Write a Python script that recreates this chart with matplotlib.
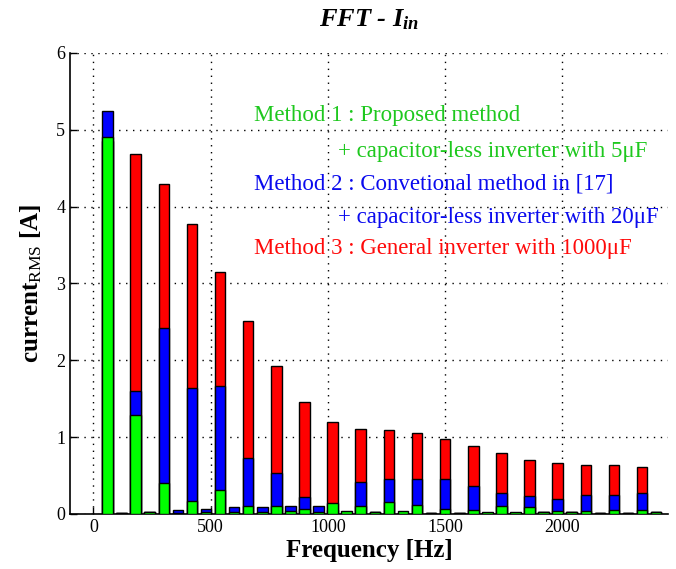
import matplotlib
matplotlib.use('Agg')
from matplotlib import pyplot as plt

plt.rcParams['font.family'] = ['Liberation Serif', 'DejaVu Serif']
plt.rcParams['mathtext.fontset'] = 'custom'
plt.rcParams['mathtext.rm'] = 'Liberation Serif'
plt.rcParams['mathtext.it'] = 'Liberation Serif:italic:bold'
plt.rcParams['mathtext.bf'] = 'Liberation Serif:bold'

freq = [60, 120, 180, 240, 300, 360, 420, 480, 540, 600,
        660, 720, 780, 840, 900, 960, 1020, 1080, 1140, 1200,
        1260, 1320, 1380, 1440, 1500, 1560, 1620, 1680, 1740, 1800,
        1860, 1920, 1980, 2040, 2100, 2160, 2220, 2280, 2340, 2400]

# Method 3 : general inverter with 1000uF
method3 = [4.85, 0.01, 4.68, 0.02, 4.30, 0.01, 3.78, 0.01, 3.15, 0.01,
           2.51, 0.01, 1.92, 0.01, 1.46, 0.01, 1.20, 0.01, 1.10, 0.02,
           1.09, 0.01, 1.05, 0.01, 0.98, 0.01, 0.89, 0.01, 0.79, 0.01,
           0.70, 0.03, 0.66, 0.03, 0.64, 0.01, 0.64, 0.01, 0.61, 0.03]
# Method 2 : conventional method + capacitor-less inverter 20uF
method2 = [5.25, 0.015, 1.60, 0.025, 2.42, 0.05, 1.64, 0.07, 1.67, 0.09,
           0.73, 0.09, 0.53, 0.11, 0.22, 0.10, 0.05, 0.01, 0.41, 0.02,
           0.45, 0.01, 0.46, 0.01, 0.45, 0.01, 0.36, 0.01, 0.27, 0.01,
           0.23, 0.03, 0.19, 0.03, 0.25, 0.01, 0.25, 0.01, 0.27, 0.03]
# Method 1 : proposed method + capacitor-less inverter 5uF
method1 = [4.91, 0.01, 1.29, 0.02, 0.40, 0.01, 0.17, 0.02, 0.31, 0.03,
           0.11, 0.02, 0.10, 0.04, 0.07, 0.02, 0.14, 0.035, 0.10, 0.02,
           0.15, 0.035, 0.12, 0.01, 0.07, 0.01, 0.05, 0.03, 0.11, 0.03,
           0.09, 0.02, 0.035, 0.02, 0.035, 0.01, 0.05, 0.01, 0.05, 0.02]

fig = plt.figure(figsize=(6.76, 5.69), dpi=100)
ax = fig.add_axes([0.1036, 0.0967, 0.8844, 0.8103])

w = 45
ax.bar(freq, method3, width=w, color='#ff0000', edgecolor='black', linewidth=1.0, zorder=2)
ax.bar(freq, method2, width=w, color='#0000ff', edgecolor='black', linewidth=1.0, zorder=3)
ax.bar(freq, method1, width=w, color='#00ff00', edgecolor='black', linewidth=1.0, zorder=4)

ax.set_xlim(-100, 2450)
ax.set_ylim(0, 6)
ax.set_xticks([0, 500, 1000, 1500, 2000])
ax.set_yticks([0, 1, 2, 3, 4, 5, 6])
ax.tick_params(direction='in', labelsize=13, length=5, width=1)
ax.grid(True, linestyle=(0, (1, 4)), color='black', linewidth=1.0)
ax.set_axisbelow(True)
ax.spines['top'].set_visible(False)
ax.spines['right'].set_visible(False)
ax.spines['left'].set_linewidth(1.2)
ax.spines['bottom'].set_linewidth(1.2)

ax.set_xlabel('Frequency [Hz]', fontsize=18, fontweight='bold', labelpad=2)
ax.set_ylabel(r'current$_{\rm RMS}$ [A]', fontsize=18, fontweight='bold', labelpad=9)
ax.set_title(r'FFT - $I_{in}$', fontsize=19, fontweight='bold', fontstyle='italic', pad=19)

tkw = dict(fontsize=16.5, va='center', ha='left', zorder=5)
ax.text(684, 5.19, 'Method 1 : Proposed method', color='#1ec81e', **tkw)
ax.text(1043, 4.72, '+ capacitor-less inverter with 5μF', color='#1ec81e', **tkw)
ax.text(684, 4.29, 'Method 2 : Convetional method in [17]', color='#0a0aee', **tkw)
ax.text(1043, 3.86, '+ capacitor-less inverter with 20μF', color='#0a0aee', **tkw)
ax.text(684, 3.46, 'Method 3 : General inverter with 1000μF', color='#ff0a0a', **tkw)

fig.savefig('out.png', dpi=100)
